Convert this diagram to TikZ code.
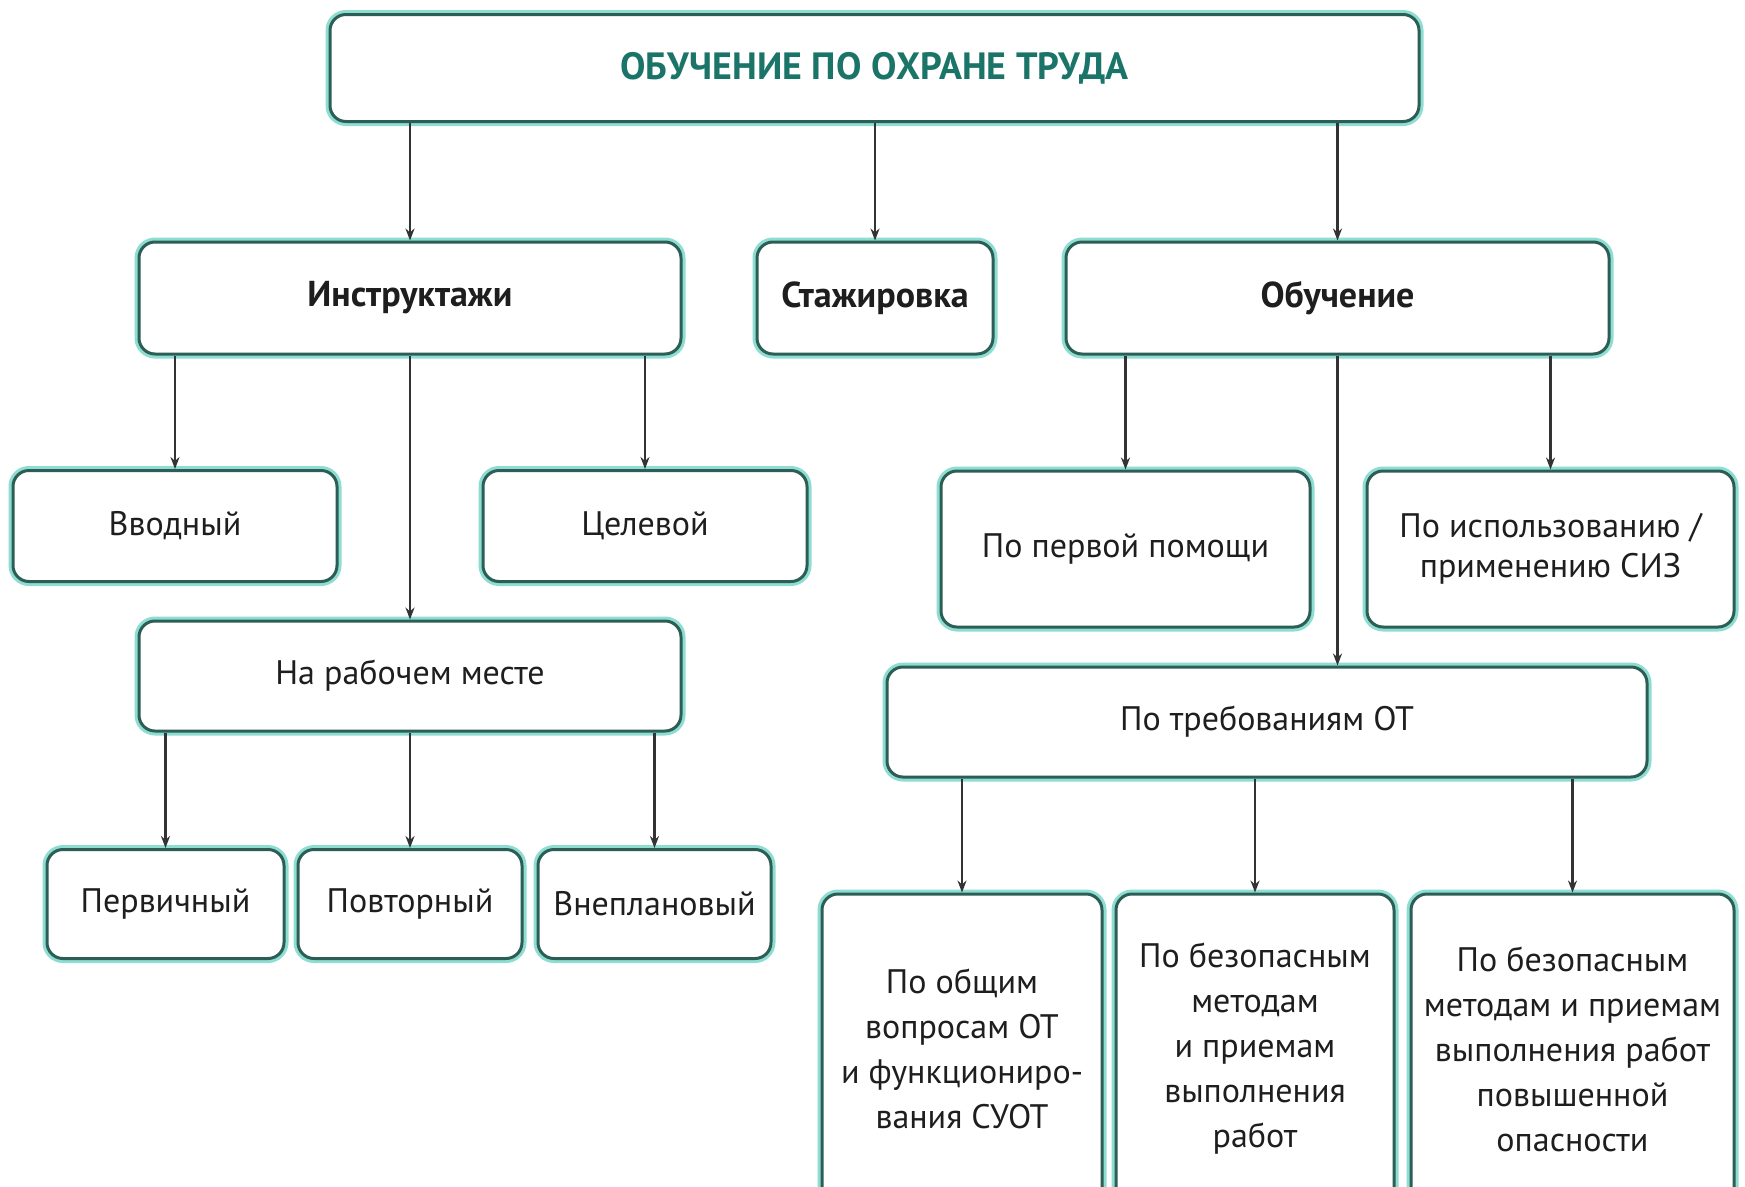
\documentclass[tikz,border=0pt]{standalone}
\usepackage{fontspec}
\setmainfont{PT Sans}
\usetikzlibrary{arrows.meta}
\definecolor{edgec}{HTML}{2C5E55}
\definecolor{glowc}{HTML}{8EDDD2}
\definecolor{titlec}{HTML}{1B7468}
\definecolor{txtc}{HTML}{1E1E1E}
\definecolor{arrc}{HTML}{333333}
\begin{document}
\begin{tikzpicture}[x=1pt,y=-1pt,
  box/.style={rectangle, rounded corners=16pt, draw=edgec, line width=3pt, fill=white,
    preaction={draw=glowc, line width=9pt, rounded corners=16pt},
    align=center, text=txtc, inner sep=0pt,
    font=\fontsize{34}{45}\selectfont},
  bbox/.style={box, font=\bfseries\fontsize{36}{45}\selectfont},
  arr/.style={draw=arrc, line width=2.2pt, -{Stealth[length=12pt,width=9pt]}}
]
\useasboundingbox (0,0) rectangle (1745,1186);
\clip (0,0) rectangle (1745,1186);
% top
\node[box, minimum width=1089pt, minimum height=107pt, text=titlec,
  font=\bfseries\fontsize{38}{40}\selectfont] (top) at (874.5,68) {ОБУЧЕНИЕ ПО ОХРАНЕ ТРУДА};
% level 2
\node[bbox, minimum width=542pt, minimum height=112pt] (ins) at (410,298) {Инструктажи};
\node[bbox, minimum width=236pt, minimum height=112pt] (sta) at (875,298) {Стажировка};
\node[bbox, minimum width=543pt, minimum height=112pt] (obu) at (1337.5,298) {Обучение};
% left branch
\node[box, minimum width=324pt, minimum height=111pt] (vvo) at (175,526) {Вводный};
\node[box, minimum width=324pt, minimum height=111pt] (cel) at (645,526) {Целевой};
\node[box, minimum width=542pt, minimum height=110pt] (rab) at (410,676) {На рабочем месте};
\node[box, minimum width=237pt, minimum height=109pt] (per) at (165.5,904) {Первичный};
\node[box, minimum width=224pt, minimum height=109pt] (pov) at (410,904) {Повторный};
\node[box, minimum width=233pt, minimum height=109pt] (vne) at (654.5,904) {Внеплановый};
% right branch
\node[box, minimum width=369pt, minimum height=156pt] (pom) at (1125.5,549) {По первой помощи};
\node[box, minimum width=367pt, minimum height=156pt, font=\fontsize{34}{40}\selectfont] (siz) at (1550.5,549) {По использованию /\\применению СИЗ};
\node[box, minimum width=760pt, minimum height=110pt] (treb) at (1267,722) {По требованиям ОТ};
\node[box, minimum width=280pt, minimum height=310pt] (obs) at (962,1049) {По общим\\вопросам ОТ\\и функциониро-\\вания СУОТ};
\node[box, minimum width=278pt, minimum height=310pt] (bez) at (1255,1049) {По безопасным\\методам\\и приемам\\выполнения\\работ};
\node[box, minimum width=323pt, minimum height=310pt] (pov2) at (1572.5,1049) {По безопасным\\методам и приемам\\выполнения работ\\повышенной\\опасности};
% connectors
\draw[arr] (top.south -| ins.north) -- (ins.north);
\draw[arr] (top.south -| sta.north) -- (sta.north);
\draw[arr] (top.south -| obu.north) -- (obu.north);
\draw[arr] (ins.south -| vvo.north) -- (vvo.north);
\draw[arr] (ins.south -| cel.north) -- (cel.north);
\draw[arr] (ins.south) -- (rab.north);
\draw[arr] (rab.south -| per.north) -- (per.north);
\draw[arr] (rab.south -| pov.north) -- (pov.north);
\draw[arr] (rab.south -| vne.north) -- (vne.north);
\draw[arr] (obu.south -| pom.north) -- (pom.north);
\draw[arr] (obu.south -| siz.north) -- (siz.north);
\draw[arr] (obu.south) -- (obu.south |- treb.north);
\draw[arr] (treb.south -| obs.north) -- (obs.north);
\draw[arr] (treb.south -| bez.north) -- (bez.north);
\draw[arr] (treb.south -| pov2.north) -- (pov2.north);
\end{tikzpicture}
\end{document}
